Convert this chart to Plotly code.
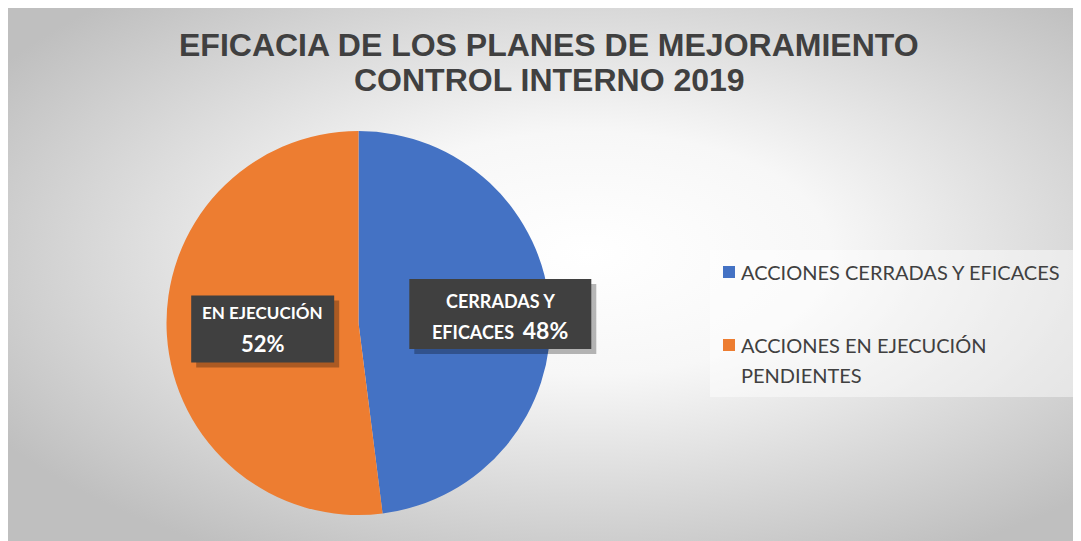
import math
import plotly.graph_objects as go

title_lines = ["EFICACIA DE LOS PLANES DE MEJORAMIENTO", "CONTROL INTERNO 2019"]
categories = ["ACCIONES CERRADAS Y EFICACES", "ACCIONES EN EJECUCIÓN<br>PENDIENTES"]
values = [48, 52]
colors = ["#4472C4", "#ED7D31"]
box_labels = [["CERRADAS Y", "EFICACES  <span style='font-size:23px'>{p}%</span>"],
              ["EN EJECUCIÓN", "<span style='font-size:22px'>{p}%</span>"]]

# page body has an 8px margin; figure sized to fit the window
OFF = 8
W, H = 1081 - OFF, 541 - OFF


def fx(px):
    return (px - OFF) / W


def fy(py):
    return 1 - (py - OFF) / H


cx, cy, R = 358.5, 323, 192

bg_svg = ("data:image/svg+xml;utf8,<svg xmlns='http://www.w3.org/2000/svg' width='1075' height='537' "
          "preserveAspectRatio='none'><defs><radialGradient id='g' cx='54%25' cy='46%25' r='65%25'>"
          "<stop offset='0' stop-color='%23ffffff'/><stop offset='0.35' stop-color='%23f7f7f7'/>"
          "<stop offset='1' stop-color='%23bfbfbf'/></radialGradient></defs>"
          "<rect width='1075' height='537' fill='url(%23g)'/></svg>")

fig = go.Figure()
fig.add_trace(go.Pie(
    labels=categories,
    values=values,
    marker=dict(colors=colors, line=dict(width=0)),
    sort=False,
    direction="clockwise",
    rotation=0,
    textinfo="none",
    hoverinfo="label+percent",
    showlegend=False,
    domain=dict(x=[fx(cx - R), fx(cx + R)], y=[fy(cy + R), fy(cy - R)]),
))

total = sum(values)
cum = 0
radial = [0.74, 0.50]
box_sizes = [(182, 70), (143, 67)]
line_offsets = [[-13, 16], [-16.5, 14.5]]
line_sizes = [18, 17]
annotations = []
shapes = []
for i, v in enumerate(values):
    mid = (cum + v / 2) / total * 2 * math.pi
    cum += v
    px = cx + radial[i] * R * math.sin(mid)
    py = cy - radial[i] * R * math.cos(mid)
    bw, bh = box_sizes[i]
    pct = round(v / total * 100)
    shapes.append(dict(type="rect", xref="paper", yref="paper",
                       x0=fx(px - bw / 2 + 5), x1=fx(px + bw / 2 + 5),
                       y0=fy(py + bh / 2 + 5), y1=fy(py - bh / 2 + 5),
                       fillcolor="rgba(0,0,0,0.28)", line=dict(width=0), layer="above"))
    shapes.append(dict(type="rect", xref="paper", yref="paper",
                       x0=fx(px - bw / 2), x1=fx(px + bw / 2),
                       y0=fy(py + bh / 2), y1=fy(py - bh / 2),
                       fillcolor="#404040", line=dict(width=0), layer="above"))
    for line, off in zip(box_labels[i], line_offsets[i]):
        annotations.append(dict(
            x=fx(px), y=fy(py + off), xref="paper", yref="paper", xanchor="center", yanchor="middle",
            text="<b>" + line.format(p=pct) + "</b>", showarrow=False,
            font=dict(family="Lato, Open Sans, sans-serif", size=line_sizes[i], color="#ffffff"),
        ))

# title (two lines, placed separately for tighter line spacing)
for line, ty in zip(title_lines, [45, 80]):
    annotations.append(dict(
        x=fx(549), y=fy(ty), xref="paper", yref="paper", xanchor="center", yanchor="middle",
        text="<b>" + line + "</b>", showarrow=False,
        font=dict(family="Liberation Sans, Arial, sans-serif", size=32, color="#404040"),
    ))

# legend (drawn manually for spacing control)
shapes.append(dict(type="rect", xref="paper", yref="paper",
                   x0=fx(710), x1=fx(1075), y0=fy(397), y1=fy(250),
                   fillcolor="rgba(255,255,255,0.45)", line=dict(width=0), layer="below"))
leg_y = [272, 345]
leg_line_gap = 30
for i, lab in enumerate(categories):
    shapes.append(dict(type="rect", xref="paper", yref="paper",
                       x0=fx(723), x1=fx(735), y0=fy(leg_y[i] + 6), y1=fy(leg_y[i] - 6),
                       fillcolor=colors[i], line=dict(width=0)))
    for k, part in enumerate(lab.split("<br>")):
        annotations.append(dict(
            x=fx(739), y=fy(leg_y[i] + k * leg_line_gap), xref="paper", yref="paper",
            xanchor="left", yanchor="middle",
            text=part, showarrow=False, align="left",
            font=dict(family="Lato, Open Sans, sans-serif", size=20, color="#404040"),
        ))

fig.update_layout(
    width=W, height=H,
    margin=dict(l=0, r=0, t=0, b=0),
    paper_bgcolor="#ffffff",
    plot_bgcolor="rgba(0,0,0,0)",
    images=[dict(source=bg_svg, xref="paper", yref="paper", x=0, y=1,
                 sizex=1, sizey=1, xanchor="left", yanchor="top",
                 sizing="stretch", layer="below")],
    showlegend=False,
    annotations=annotations,
    shapes=shapes,
)

fig.write_html("out.html")
